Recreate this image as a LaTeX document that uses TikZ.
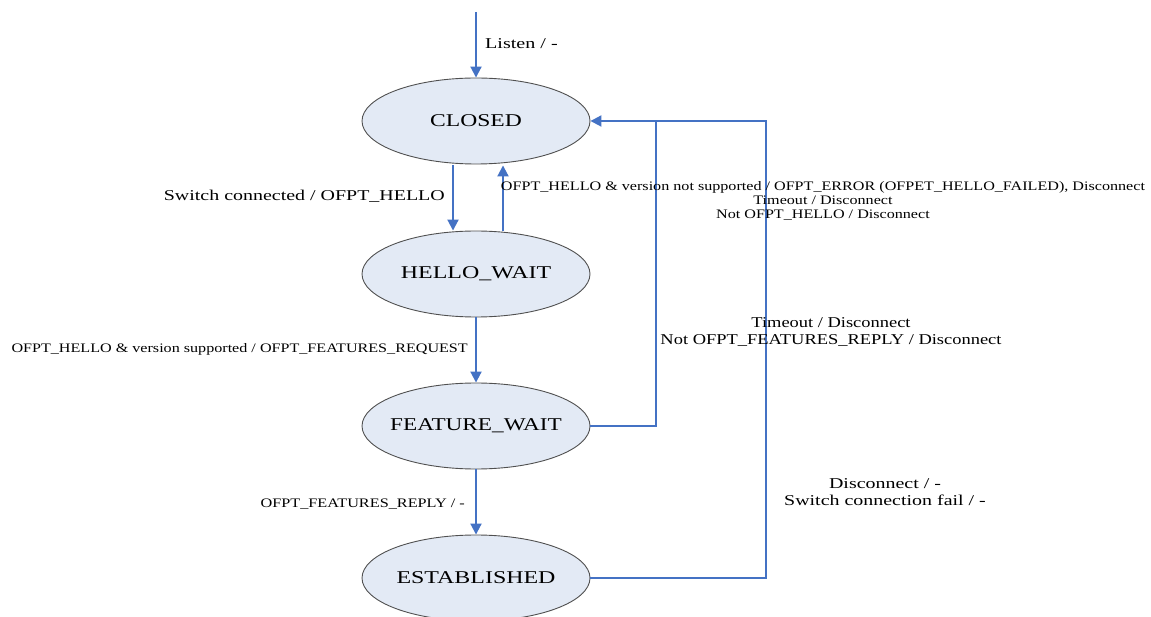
\documentclass[tikz,border=0pt]{standalone}
\usepackage{fontspec}
\usepackage{graphicx}
\setmainfont{Liberation Serif}
\usetikzlibrary{shapes.geometric,arrows.meta,calc}
\definecolor{arrblue}{HTML}{4472C4}
\definecolor{statefill}{HTML}{E3EAF5}
\definecolor{stateline}{HTML}{505050}
\newcommand{\wide}[2]{\scalebox{#1}[1]{\begin{tabular}{@{}c@{}}#2\end{tabular}}}
\newcommand{\wideone}[2]{\scalebox{#1}[1]{#2}}
\newcommand{\statetext}[2]{\makebox[0pt]{\scalebox{#1}[1]{#2}}}
\tikzset{
  state/.style={ellipse,draw=stateline,line width=0.9pt,fill=statefill,minimum width=228pt,minimum height=86pt,inner sep=0pt,font=\fontsize{18}{20}\selectfont},
  arr/.style={draw=arrblue,line width=2pt,-{Triangle[length=11pt,width=11pt]}},
  wire/.style={draw=arrblue,line width=2pt},
  lbl/.style={inner sep=0pt,font=\fontsize{15}{16.5}\selectfont},
  small/.style={inner sep=0pt,font=\fontsize{13}{14}\selectfont}
}
\begin{document}
\begin{tikzpicture}[x=1pt,y=-1pt]
\useasboundingbox (0,0) rectangle (1151,617);
\clip (0,0) rectangle (1151,617);
\node[state] (closed) at (476,121) {\statetext{1.31}{CLOSED}};
\node[state] (hello) at (476,274) {\statetext{1.33}{HELLO\_WAIT}};
\node[state] (feature) at (476,426) {\statetext{1.29}{FEATURE\_WAIT}};
\node[state] (est) at (476,578) {\statetext{1.33}{ESTABLISHED}};
\coordinate (start) at (476,12);
\draw[arr] (start) -- (closed.north);
\draw[arr] ($(closed.south)+(-23,1)$) -- ($(hello.north)+(-23,0)$);
\draw[arr] ($(hello.north)+(27,0)$) -- ($(closed.south)+(27,1)$);
\draw[arr] (hello.south) -- (feature.north);
\draw[arr] (feature.south) -- (est.north);
\coordinate (j1) at ($(closed.east)+(66,0)$);
\coordinate (j2) at ($(closed.east)+(176,0)$);
\draw[arr] (feature.east) -| (j1) -- (closed.east);
\draw[wire] (est.east) -| (j2) -- (j1);
\node[lbl,anchor=west] (l0) at (485,44) {\wideone{1.34}{Listen / -}};
\node[lbl,anchor=east] (l1) at (445,196) {\wideone{1.33}{Switch connected / OFPT\_HELLO}};
\node[small] (l2) at (823,202) {\wide{1.24}{OFPT\_HELLO \& version not supported / OFPT\_ERROR (OFPET\_HELLO\_FAILED), Disconnect\\Timeout / Disconnect\\Not OFPT\_HELLO / Disconnect}};
\node[small,anchor=east] (l3) at (468,349) {\wideone{1.24}{OFPT\_HELLO \& version supported / OFPT\_FEATURES\_REQUEST}};
\node[lbl] (l4) at (831,332.5) {\wide{1.23}{Timeout / Disconnect\\Not OFPT\_FEATURES\_REPLY / Disconnect}};
\node[small,anchor=east] (l5) at (465,504) {\wideone{1.25}{OFPT\_FEATURES\_REPLY / -}};
\node[lbl] (l6) at (885,493.5) {\wide{1.33}{Disconnect / -\\Switch connection fail / -}};
\end{tikzpicture}
\end{document}
